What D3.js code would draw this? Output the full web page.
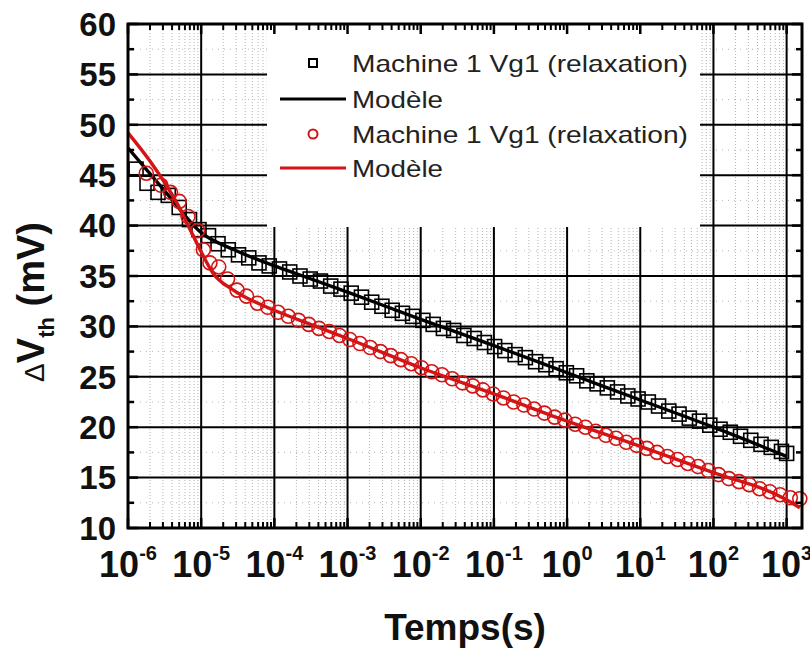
<!DOCTYPE html>
<html>
<head>
<meta charset="utf-8">
<script src="https://cdn.jsdelivr.net/npm/d3@7/dist/d3.min.js"></script>
<style>
  html, body { margin: 0; padding: 0; background: #fff; }
  svg { display: block; }
  text { font-family: "Liberation Sans", Arial, sans-serif; }
</style>
</head>
<body>
<svg id="chart" width="810" height="654"></svg>
<script>
// ---------- DATA ----------
const xTickExponents = [-6, -5, -4, -3, -2, -1, 0, 1, 2, 3];
const yTickValues = [10, 15, 20, 25, 30, 35, 40, 45, 50, 55, 60];
const legendLabels = ["Machine 1 Vg1 (relaxation)", "Modèle", "Machine 1 Vg1 (relaxation)", "Modèle"];

// black squares: log10(time) and ΔVth (mV)
const squaresLogT = [-5.89,-5.74,-5.59,-5.45,-5.30,-5.16,-5.03,-4.90,-4.77,-4.63,-4.49,-4.35,-4.21,-4.07,-3.93,-3.79,-3.65,-3.51,-3.37,-3.23,-3.09,-2.95,-2.81,-2.67,-2.53,-2.39,-2.25,-2.11,-1.97,-1.83,-1.69,-1.55,-1.41,-1.27,-1.13,-0.99,-0.85,-0.71,-0.57,-0.43,-0.29,-0.15,-0.01,0.13,0.27,0.41,0.55,0.69,0.83,0.97,1.11,1.25,1.39,1.53,1.67,1.81,1.95,2.09,2.23,2.37,2.51,2.65,2.79,2.93,3.00];
const squaresV = [45.6,44.2,43.3,43.0,41.8,40.6,39.6,39.0,38.2,37.6,37.1,36.8,36.3,36.0,35.7,35.4,35.0,34.7,34.5,34.0,33.7,33.3,32.9,32.4,32.0,31.6,31.3,31.0,30.6,30.2,29.8,29.6,29.1,28.8,28.4,28.0,27.6,27.2,26.9,26.5,26.2,25.8,25.4,25.1,24.6,24.3,23.9,23.5,23.1,22.8,22.5,22.1,21.6,21.3,20.9,20.6,20.2,19.8,19.5,19.1,18.7,18.3,18.0,17.6,17.4];

// black model line
const blackModelLogT = [-6.00,-5.47,-5.00,-4.55,-4.00,-3.65,-3.00,-2.00,-1.00,0.00,1.00,2.00,3.00];
const blackModelV    = [47.7,43.2,39.3,37.6,36.0,35.1,33.4,30.7,28.1,25.4,22.7,20.0,17.1];

// red circles
const circlesLogT = [-5.75,-5.55,-5.42,-5.30,-5.18,-5.05,-4.97,-4.88,-4.76,-4.64,-4.51,-4.38,-4.23,-4.09,-3.95,-3.81,-3.67,-3.53,-3.39,-3.25,-3.11,-2.97,-2.83,-2.69,-2.55,-2.41,-2.27,-2.13,-1.99,-1.85,-1.71,-1.57,-1.43,-1.29,-1.15,-1.01,-0.87,-0.73,-0.59,-0.45,-0.31,-0.17,-0.03,0.11,0.25,0.39,0.53,0.67,0.81,0.95,1.09,1.23,1.37,1.51,1.65,1.79,1.93,2.07,2.21,2.35,2.49,2.63,2.77,2.91,3.05,3.18];
const circlesV = [45.2,44.0,43.3,42.4,40.9,39.5,37.6,36.3,35.9,34.7,33.6,33.0,32.3,31.9,31.4,31.0,30.6,30.2,29.8,29.5,29.1,28.7,28.3,27.9,27.5,27.1,26.7,26.3,25.9,25.5,25.2,24.8,24.4,24.1,23.7,23.3,22.9,22.5,22.2,21.8,21.4,21.0,20.7,20.3,20.0,19.6,19.2,18.9,18.5,18.2,17.9,17.5,17.1,16.8,16.4,16.1,15.7,15.3,14.9,14.6,14.3,13.9,13.6,13.3,13.0,12.9];

// red model line
const redModelLogT = [-6.00,-5.70,-5.33,-5.15,-5.00,-4.84,-4.56,-4.10,-3.65,-3.00,-2.00,-1.00,0.00,1.00,2.00,3.00,3.18];
const redModelV    = [49.2,46.4,42.2,39.6,37.4,35.3,33.6,31.9,30.6,28.8,25.9,23.3,20.6,18.1,15.5,12.8,12.0];

// ---------- LAYOUT ----------
const svg = d3.select("#chart");
const L = 128, R = 802, T = 24, B = 528;
const RED = "#d41414";

const x = d3.scaleLog().domain([1e-6, Math.pow(10, 3.21)]).range([L, R]);
const y = d3.scaleLinear().domain([10, 60]).range([B, T]);

const gGrid = svg.append("g");

// minor vertical dotted grid
const minorX = [];
for (let e = -6; e <= 3; e++) for (let k = 2; k <= 9; k++) {
  const v = k * Math.pow(10, e);
  if (v < x.domain()[1]) minorX.push(v);
}
gGrid.selectAll(".mvx").data(minorX).enter().append("line")
  .attr("x1", d => x(d)).attr("x2", d => x(d)).attr("y1", T).attr("y2", B)
  .attr("stroke", "#b4b4b4").attr("stroke-width", 1).attr("stroke-dasharray", "1,2");

// minor horizontal dotted grid
const minorY = d3.range(12.5, 60, 5);
gGrid.selectAll(".mhy").data(minorY).enter().append("line")
  .attr("x1", L).attr("x2", R).attr("y1", d => y(d)).attr("y2", d => y(d))
  .attr("stroke", "#b4b4b4").attr("stroke-width", 1).attr("stroke-dasharray", "1,5");

// major grid
const majorX = xTickExponents.slice(1).map(e => Math.pow(10, e));
gGrid.selectAll(".gx").data(majorX).enter().append("line")
  .attr("x1", d => x(d)).attr("x2", d => x(d)).attr("y1", T).attr("y2", B)
  .attr("stroke", "#000").attr("stroke-width", 2);
gGrid.selectAll(".gy").data(yTickValues.slice(1, -1)).enter().append("line")
  .attr("x1", L).attr("x2", R).attr("y1", d => y(d)).attr("y2", d => y(d))
  .attr("stroke", "#000").attr("stroke-width", 2);

// legend background
svg.append("rect").attr("x", 267).attr("y", T).attr("width", 433).attr("height", 203).attr("fill", "#fff");

// ---------- DATA MARKS ----------
const lineGen = d3.line().x(d => x(d[0])).y(d => y(d[1])).curve(d3.curveMonotoneX);

const blackLine = blackModelLogT.map((e, i) => [Math.pow(10, e), blackModelV[i]]);
const redLine = redModelLogT.map((e, i) => [Math.pow(10, e), redModelV[i]]);

svg.append("g").selectAll("rect").data(squaresLogT.map((e, i) => [Math.pow(10, e), squaresV[i]]))
  .enter().append("rect")
  .attr("x", d => x(d[0]) - 7).attr("y", d => y(d[1]) - 7)
  .attr("width", 14).attr("height", 14)
  .attr("fill", "none").attr("stroke", "#000").attr("stroke-width", 1.6);

svg.append("path").datum(blackLine).attr("d", lineGen)
  .attr("fill", "none").attr("stroke", "#000").attr("stroke-width", 3.4);

svg.append("g").selectAll("circle").data(circlesLogT.map((e, i) => [Math.pow(10, e), circlesV[i]]))
  .enter().append("circle")
  .attr("cx", d => x(d[0])).attr("cy", d => y(d[1])).attr("r", 7)
  .attr("fill", "none").attr("stroke", RED).attr("stroke-width", 1.6);

svg.append("path").datum(redLine).attr("d", lineGen)
  .attr("fill", "none").attr("stroke", RED).attr("stroke-width", 3.4);

// ---------- AXES ----------
const gAx = svg.append("g");
// frame
gAx.append("rect").attr("x", L).attr("y", T).attr("width", R - L).attr("height", B - T)
  .attr("fill", "none").attr("stroke", "#000").attr("stroke-width", 3);

// y ticks (left & right, inside)
const yMinor = d3.range(12.5, 60, 5);
[[L, 1], [R, -1]].forEach(([x0, dir]) => {
  gAx.selectAll(null).data(yTickValues).enter().append("line")
    .attr("x1", x0).attr("x2", x0 + dir * 10).attr("y1", d => y(d)).attr("y2", d => y(d))
    .attr("stroke", "#000").attr("stroke-width", 2.5);
  gAx.selectAll(null).data(yMinor).enter().append("line")
    .attr("x1", x0).attr("x2", x0 + dir * 6).attr("y1", d => y(d)).attr("y2", d => y(d))
    .attr("stroke", "#000").attr("stroke-width", 2.5);
});
// x ticks (bottom & top, inside)
const xMajor = xTickExponents.map(e => Math.pow(10, e));
[[B, -1], [T, 1]].forEach(([y0, dir]) => {
  gAx.selectAll(null).data(xMajor).enter().append("line")
    .attr("x1", d => x(d)).attr("x2", d => x(d)).attr("y1", y0).attr("y2", y0 + dir * 10)
    .attr("stroke", "#000").attr("stroke-width", 2.5);
  gAx.selectAll(null).data(minorX).enter().append("line")
    .attr("x1", d => x(d)).attr("x2", d => x(d)).attr("y1", y0).attr("y2", y0 + dir * 6)
    .attr("stroke", "#000").attr("stroke-width", 2);
});

// y tick labels
gAx.selectAll(null).data(yTickValues).enter().append("text")
  .attr("x", 116).attr("y", d => y(d)).attr("dy", "0.36em")
  .attr("text-anchor", "end").attr("font-size", 33).attr("font-weight", "bold")
  .attr("fill", "#111").text(d => d);

// x tick labels
const xl = gAx.selectAll(null).data(xTickExponents).enter().append("text")
  .attr("x", d => x(Math.pow(10, d))).attr("y", 577)
  .attr("text-anchor", "middle").attr("font-weight", "bold").attr("fill", "#111");
xl.append("tspan").attr("font-size", 36).text("10");
xl.append("tspan").attr("font-size", 20).attr("dy", -17).text(d => d);

// axis titles
svg.append("text").attr("x", 465).attr("y", 640).attr("text-anchor", "middle")
  .attr("font-size", 37).attr("font-weight", "bold").attr("fill", "#111").text("Temps(s)");

const yt = svg.append("text").attr("transform", "translate(44,302) rotate(-90)")
  .attr("text-anchor", "middle").attr("fill", "#111");
yt.append("tspan").attr("font-size", 28).text("Δ");
yt.append("tspan").attr("font-size", 38).attr("font-weight", "bold").text("V");
yt.append("tspan").attr("font-size", 22).attr("font-weight", "bold").attr("dy", 10).text("th");
yt.append("tspan").attr("font-size", 38).attr("font-weight", "bold").attr("dy", -10).text(" (mV)");

// ---------- LEGEND ----------
const lg = svg.append("g");
const rows = [63, 99, 134, 168];
lg.append("rect").attr("x", 309).attr("y", rows[0] - 4).attr("width", 8).attr("height", 8)
  .attr("fill", "none").attr("stroke", "#000").attr("stroke-width", 2);
lg.append("line").attr("x1", 280).attr("x2", 346).attr("y1", rows[1]).attr("y2", rows[1])
  .attr("stroke", "#000").attr("stroke-width", 3);
lg.append("circle").attr("cx", 313).attr("cy", rows[2]).attr("r", 4.5)
  .attr("fill", "none").attr("stroke", RED).attr("stroke-width", 2);
lg.append("line").attr("x1", 280).attr("x2", 346).attr("y1", rows[3]).attr("y2", rows[3])
  .attr("stroke", RED).attr("stroke-width", 3);
const lens = [336, 91, 336, 91];
lg.selectAll(null).data(legendLabels).enter().append("text")
  .attr("x", 352).attr("y", (d, i) => rows[i]).attr("dy", "0.36em")
  .attr("font-size", 24).attr("fill", "#222")
  .attr("textLength", (d, i) => lens[i]).attr("lengthAdjust", "spacingAndGlyphs")
  .text(d => d);
</script>
</body>
</html>
